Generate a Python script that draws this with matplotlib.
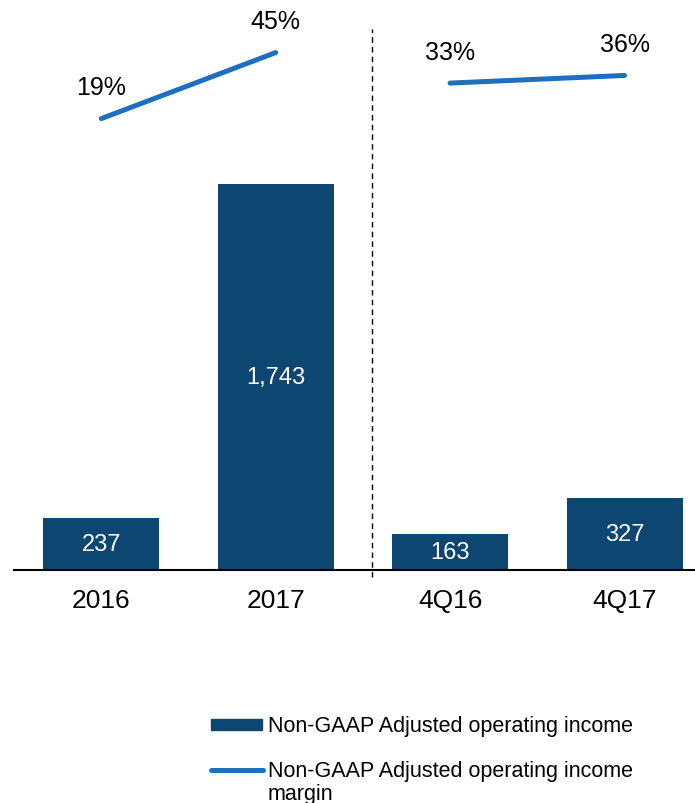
import matplotlib.pyplot as plt
from matplotlib.lines import Line2D
from matplotlib.patches import Rectangle

plt.rcParams['font.family'] = ['Liberation Sans', 'DejaVu Sans']

# data
periods = ["2016", "2017", "4Q16", "4Q17"]
income = [237, 1743, 163, 327]
income_labels = ["237", "1,743", "163", "327"]
margin = [19, 45, 33, 36]

bar_color = "#0D4670"
line_color = "#1F6FBF"

W, H = 695, 804
fig = plt.figure(figsize=(W / 100, H / 100), dpi=100)
ax = fig.add_axes([14 / W, 233 / H, 681 / W, 571 / H])

x = list(range(len(periods)))
bars = ax.bar(x, income, width=0.665, color=bar_color)
for b, lab in zip(bars, income_labels):
    ax.text(b.get_x() + b.get_width() / 2, b.get_height() / 2, lab,
            ha="center", va="center", color="white", fontsize=17)

ax.set_xlim(-0.5, 3.404)
ax.set_ylim(0, 2578)
ax.set_xticks(x)
ax.set_xticklabels(periods, fontsize=19)
ax.tick_params(axis="x", length=0, pad=13)
ax.set_yticks([])
for s in ["top", "right", "left"]:
    ax.spines[s].set_visible(False)
ax.spines["bottom"].set_linewidth(1.5)

# divider between annual and quarterly
ax.axvline(1.553, ymin=-0.012, ymax=0.947, color="black", linestyle=(0, (4, 3)),
           linewidth=1, clip_on=False)

# margin line on secondary axis
ax2 = ax.twinx()
ax2.set_ylim(-158.7, 66.1)
ax2.axis("off")
ax2.plot(x[0:2], margin[0:2], color=line_color, linewidth=3.6, solid_capstyle="round")
ax2.plot(x[2:4], margin[2:4], color=line_color, linewidth=3.6, solid_capstyle="round")
for xi, m in zip(x, margin):
    ax2.annotate(f"{m}%", (xi, m), xytext=(0, 17.5), textcoords="offset points",
                 ha="center", va="baseline", fontsize=18)

# legend, drawn by hand so the line sits beside the first text line
def fx(px):
    return px / W

def fy(py):
    return 1 - py / H

fig.add_artist(Rectangle((fx(211), fy(731)), fx(262) - fx(211), fy(720) - fy(731),
                         transform=fig.transFigure, color=bar_color))
fig.text(fx(268), fy(732), "Non-GAAP Adjusted operating income", fontsize=15.5,
         va="baseline")
fig.add_artist(Line2D([fx(211), fx(263)], [fy(771), fy(771)], transform=fig.transFigure,
                      color=line_color, linewidth=3.6, solid_capstyle="round"))
fig.text(fx(268), fy(777), "Non-GAAP Adjusted operating income", fontsize=15.5,
         va="baseline")
fig.text(fx(268), fy(800), "margin", fontsize=15.5, va="baseline")

plt.savefig("out.png", dpi=100)
